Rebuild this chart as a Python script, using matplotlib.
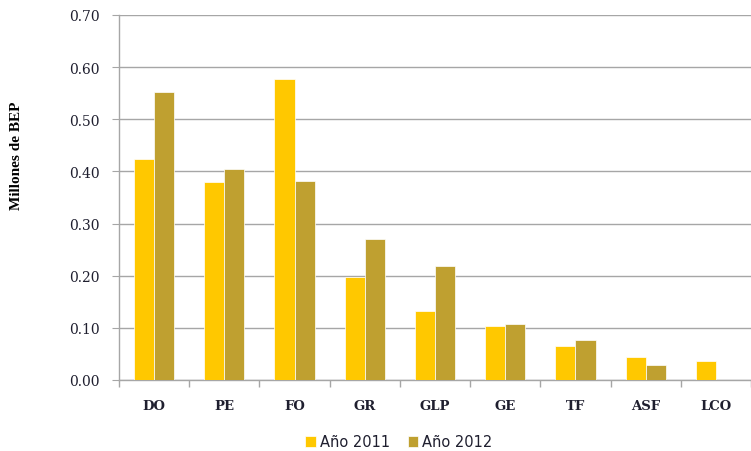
import numpy as np
import matplotlib
matplotlib.use("Agg")
import matplotlib.pyplot as plt

# data
categories = ["DO", "PE", "FO", "GR", "GLP", "GE", "TF", "ASF", "LCO"]
anio_2011 = [0.424, 0.379, 0.577, 0.198, 0.132, 0.103, 0.066, 0.045, 0.036]
anio_2012 = [0.552, 0.405, 0.382, 0.270, 0.219, 0.108, 0.077, 0.029, 0.0]
yticks = [0.0, 0.1, 0.2, 0.3, 0.4, 0.5, 0.6, 0.7]

c2011 = "#FFC800"
c2012 = "#BFA030"
grid_c = "#A6A6A6"
text_c = "#1F1F2F"

fig = plt.figure(figsize=(7.51, 4.52), dpi=100)
ax = fig.add_axes([119 / 751, 1 - 381 / 452, 632 / 751, 365 / 452])

x = np.arange(len(categories))
w = 0.286
ax.bar(x - w / 2, anio_2011, w, color=c2011, edgecolor="white", linewidth=0.5,
       label="Año 2011", zorder=3)
ax.bar(x + w / 2, anio_2012, w, color=c2012, edgecolor="white", linewidth=0.5,
       label="Año 2012", zorder=3)

ax.set_xlim(-0.5, len(categories) - 0.5)
ax.set_ylim(0, 0.7)
ax.set_yticks(yticks)
ax.set_yticklabels([f"{v:.2f}" for v in yticks], family="DejaVu Serif",
                   fontsize=10, color=text_c)
ax.yaxis.grid(True, color=grid_c, linewidth=1.0, zorder=0)
ax.tick_params(axis="y", length=5, color=grid_c, pad=9)

# category labels centred, ticks between categories
ax.set_xticks(x)
ax.set_xticklabels(categories, family="DejaVu Serif", fontsize=9.5,
                   fontweight="bold", color=text_c)
ax.tick_params(axis="x", length=0, pad=14)
ax.set_xticks(np.arange(-0.5, len(categories), 1.0), minor=True)
ax.tick_params(axis="x", which="minor", length=5, color=grid_c, width=1)

for s in ["top", "right"]:
    ax.spines[s].set_visible(False)
for s in ["left", "bottom"]:
    ax.spines[s].set_color(grid_c)
    ax.spines[s].set_linewidth(1.0)

fig.text(17 / 751, 1 - 156 / 452, "Millones de BEP", rotation=90,
         family="Liberation Serif", fontweight="bold", fontsize=11,
         ha="center", va="center", color="black")

fig.legend(loc="center", bbox_to_anchor=(399 / 751, 1 - 443 / 452), ncol=2,
           frameon=False, prop={"family": "DejaVu Sans", "size": 10.5},
           handlelength=0.7, handleheight=0.7, handletextpad=0.3,
           columnspacing=1.2, labelcolor=text_c)

fig.savefig("out.png", dpi=100)
